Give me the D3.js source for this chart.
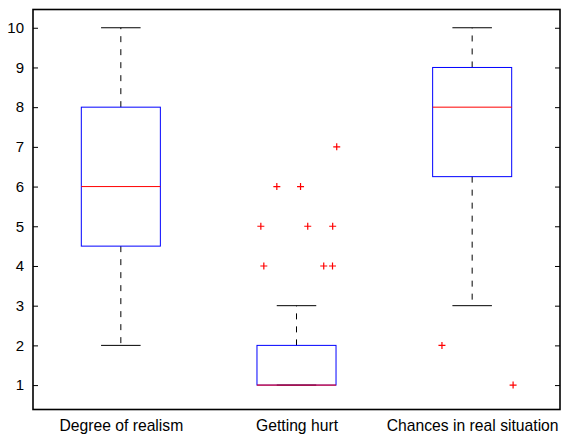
<!DOCTYPE html>
<html><head><meta charset="utf-8">
<script src="https://cdn.jsdelivr.net/npm/d3@7"></script>
<style>body{margin:0;background:#fff}svg{display:block}text{font-family:"Liberation Sans",Arial,sans-serif;fill:#000}</style>
</head><body><svg id="c" width="570" height="435"></svg>
<script>
const categories = ["Degree of realism", "Getting hurt", "Chances in real situation"];
const whiskerLow  = [2, 1, 3];
const q1          = [4.5, 1, 6.25];
const medians     = [6, 1, 8];
const q3          = [8, 2, 9];
const whiskerHigh = [10, 3, 10];
// outliers: group index, value, horizontal jitter (category units)
const outlierGroup  = [1, 1, 1, 1, 1, 1, 1, 1, 1, 2, 2];
const outlierValue  = [7, 6, 6, 5, 5, 5, 4, 4, 4, 2, 1];
const outlierJitter = [0.229, -0.112, 0.023, -0.203, 0.064, 0.206, -0.186, 0.155, 0.205, -0.172, 0.233];
const yTicks = [1, 2, 3, 4, 5, 6, 7, 8, 9, 10];

const svg = d3.select("#c");
const L = 33, R = 560, T = 9.5, B = 409.5;
const x = d3.scaleLinear().domain([0.5, 3.5]).range([L, R]);
const y = d3.scaleLinear().domain([0.385, 10.46]).range([B, T]);
const boxHalf = 0.225, capHalf = 0.1125;

const g = svg.append("g");
categories.forEach((c, i) => {
  const cx = x(i + 1);
  g.append("line").attr("x1", cx).attr("x2", cx).attr("y1", y(q3[i])).attr("y2", y(whiskerHigh[i]))
    .attr("stroke", "#000").attr("stroke-dasharray", "6,7");
  g.append("line").attr("x1", cx).attr("x2", cx).attr("y1", y(q1[i])).attr("y2", y(whiskerLow[i]))
    .attr("stroke", "#000").attr("stroke-dasharray", "6,7");
  [whiskerLow[i], whiskerHigh[i]].forEach(v => {
    g.append("line").attr("x1", x(i + 1 - capHalf)).attr("x2", x(i + 1 + capHalf))
      .attr("y1", y(v)).attr("y2", y(v)).attr("stroke", "#000");
  });
  g.append("rect").attr("x", x(i + 1 - boxHalf)).attr("y", y(q3[i]))
    .attr("width", x(i + 1 + boxHalf) - x(i + 1 - boxHalf)).attr("height", y(q1[i]) - y(q3[i]))
    .attr("fill", "none").attr("stroke", "#0000ff");
  g.append("line").attr("x1", x(i + 1 - boxHalf)).attr("x2", x(i + 1 + boxHalf))
    .attr("y1", y(medians[i])).attr("y2", y(medians[i])).attr("stroke", "#ff0000");
});

outlierValue.forEach((v, k) => {
  const px = x(outlierGroup[k] + 1 + outlierJitter[k]), py = y(v);
  g.append("path").attr("d", `M${px - 3.5},${py}H${px + 3.5}M${px},${py - 3.5}V${py + 3.5}`)
    .attr("stroke", "#ff0000").attr("stroke-width", 1.2).attr("fill", "none");
});

const yAxisL = d3.axisLeft(y).tickValues(yTicks).tickSize(-5).tickPadding(9).tickFormat(d3.format("d"));
const yAxisR = d3.axisRight(y).tickValues(yTicks).tickSize(-5).tickFormat("");
const ga = svg.append("g").attr("transform", `translate(${L},0)`).call(yAxisL);
ga.select(".domain").remove();
ga.selectAll("text").attr("font-size", 15).style("font-family", "'Liberation Sans',Arial,sans-serif");
ga.selectAll("line").attr("stroke", "#000");
const gr = svg.append("g").attr("transform", `translate(${R},0)`).call(yAxisR);
gr.select(".domain").remove();
gr.selectAll("line").attr("stroke", "#000");

const xAxis = d3.axisBottom(x).tickValues([1, 2, 3]).tickSize(0).tickPadding(10.3).tickFormat(d => categories[d - 1]);
const gx = svg.append("g").attr("transform", `translate(0,${B})`).call(xAxis);
gx.select(".domain").remove();
gx.selectAll("text").attr("font-size", 15.7).style("font-family", "'Liberation Sans',Arial,sans-serif");

svg.append("rect").attr("x", L).attr("y", T).attr("width", R - L).attr("height", B - T)
  .attr("fill", "none").attr("stroke", "#000").attr("stroke-width", 1.6);
</script></body></html>
